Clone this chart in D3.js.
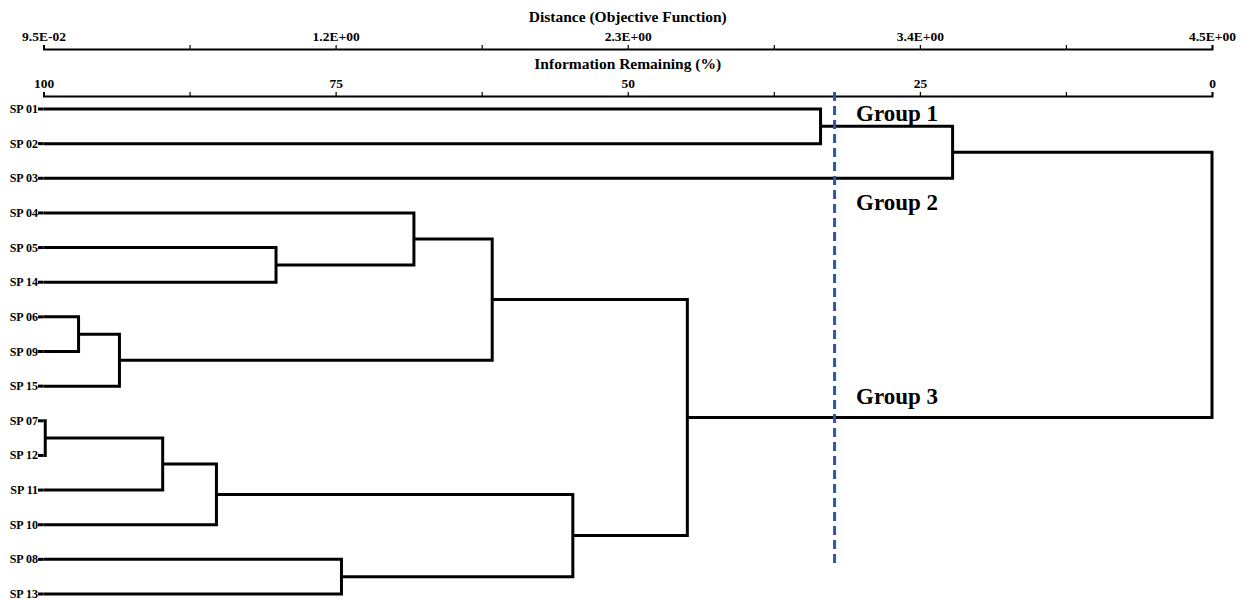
<!DOCTYPE html>
<html>
<head>
<meta charset="utf-8">
<script src="https://cdn.jsdelivr.net/npm/d3@7"></script>
<style>
  body { margin: 0; background: #fff; }
  svg text { font-family: "Liberation Serif", "Times New Roman", serif; font-weight: bold; }
</style>
</head>
<body>
<svg id="plot" width="1248" height="601"></svg>
<script>
// leaf order, top to bottom
const leaves = ["SP 01", "SP 02", "SP 03", "SP 04", "SP 05", "SP 14", "SP 06", "SP 09",
  "SP 15", "SP 07", "SP 12", "SP 11", "SP 10", "SP 08", "SP 13"];

// merges: [node a, node b, information remaining %]; new nodes numbered from 15 on
const mergeA = [0, 15, 4, 3, 6, 19, 18, 9, 22, 23, 13, 24, 21, 16];
const mergeB = [1, 2, 5, 17, 7, 8, 20, 10, 11, 12, 14, 25, 26, 27];
const mergeH = [33.5, 22.2, 80.1, 68.3, 97.0, 93.5, 61.6, 99.85, 89.8, 85.2, 74.5, 54.7, 44.9, 0];

const pctTicks = [100, 87.5, 75, 62.5, 50, 37.5, 25, 12.5, 0];
const pctLabels = ["100", "", "75", "", "50", "", "25", "", "0"];
const distLabels = ["9.5E-02", "", "1.2E+00", "", "2.3E+00", "", "3.4E+00", "", "4.5E+00"];

const cutPct = 32.3;
const groupNames = ["Group 1", "Group 2", "Group 3"];
const groupRows = [0.15, 2.7, 8.3];

const svg = d3.select("#plot");
const x = d3.scaleLinear().domain([100, 0]).range([43.5, 1212]);
const y = d3.scaleLinear().domain([0, leaves.length - 1]).range([109, 594]);

// axes
function drawAxis(yPos, labels, title, titleY) {
  const ax = d3.axisTop(x).tickValues(pctTicks).tickSize(4)
    .tickFormat((d, i) => labels[i]);
  const g = svg.append("g").attr("transform", `translate(0,${yPos})`).call(ax);
  g.select(".domain").attr("stroke", "#000").attr("stroke-width", 2);
  g.selectAll(".tick line").attr("stroke", "#000").attr("stroke-width", 1.2);
  g.selectAll(".tick text").attr("font-size", 13.5).attr("fill", "#000")
    .attr("font-family", "Liberation Serif").attr("font-weight", "bold").attr("dy", -1);
  svg.append("text").attr("x", x(50)).attr("y", titleY).attr("text-anchor", "middle")
    .attr("font-size", 15.5).text(title);
}
drawAxis(49, distLabels, "Distance (Objective Function)", 22);
drawAxis(96, pctLabels, "Information Remaining (%)", 69);

// node positions
const nodes = leaves.map((d, i) => ({ x: x(100), y: y(i) }));
mergeA.forEach((a, i) => {
  const b = mergeB[i];
  nodes.push({ x: x(mergeH[i]), y: (nodes[a].y + nodes[b].y) / 2 });
});

// leaf stubs and labels
svg.selectAll("text.leaf").data(leaves).enter().append("text")
  .attr("class", "leaf").attr("x", 38).attr("y", (d, i) => y(i) + 4)
  .attr("text-anchor", "end").attr("font-size", 12).text(d => d);

svg.selectAll("line.stub").data(leaves).enter().append("line")
  .attr("x1", 38).attr("x2", x(100)).attr("y1", (d, i) => y(i)).attr("y2", (d, i) => y(i))
  .attr("stroke", "#000").attr("stroke-width", 3);

// tree links
svg.selectAll("path.link").data(mergeA).enter().append("path")
  .attr("class", "link")
  .attr("d", (a, i) => {
    const b = mergeB[i], m = nodes[leaves.length + i];
    return `M${nodes[a].x},${nodes[a].y}H${m.x}V${nodes[b].y}H${nodes[b].x}`;
  })
  .attr("fill", "none").attr("stroke", "#000").attr("stroke-width", 3)
  .attr("stroke-linejoin", "miter");

// cut line
svg.append("line").attr("x1", x(cutPct)).attr("x2", x(cutPct))
  .attr("y1", 92).attr("y2", 563)
  .attr("stroke", "#2f56a3").attr("stroke-width", 3).attr("stroke-dasharray", "9,5");

svg.selectAll("text.group").data(groupNames).enter().append("text")
  .attr("class", "group").attr("x", 856).attr("y", (d, i) => y(groupRows[i]) + 7)
  .attr("font-size", 23).text(d => d);
</script>
</body>
</html>
